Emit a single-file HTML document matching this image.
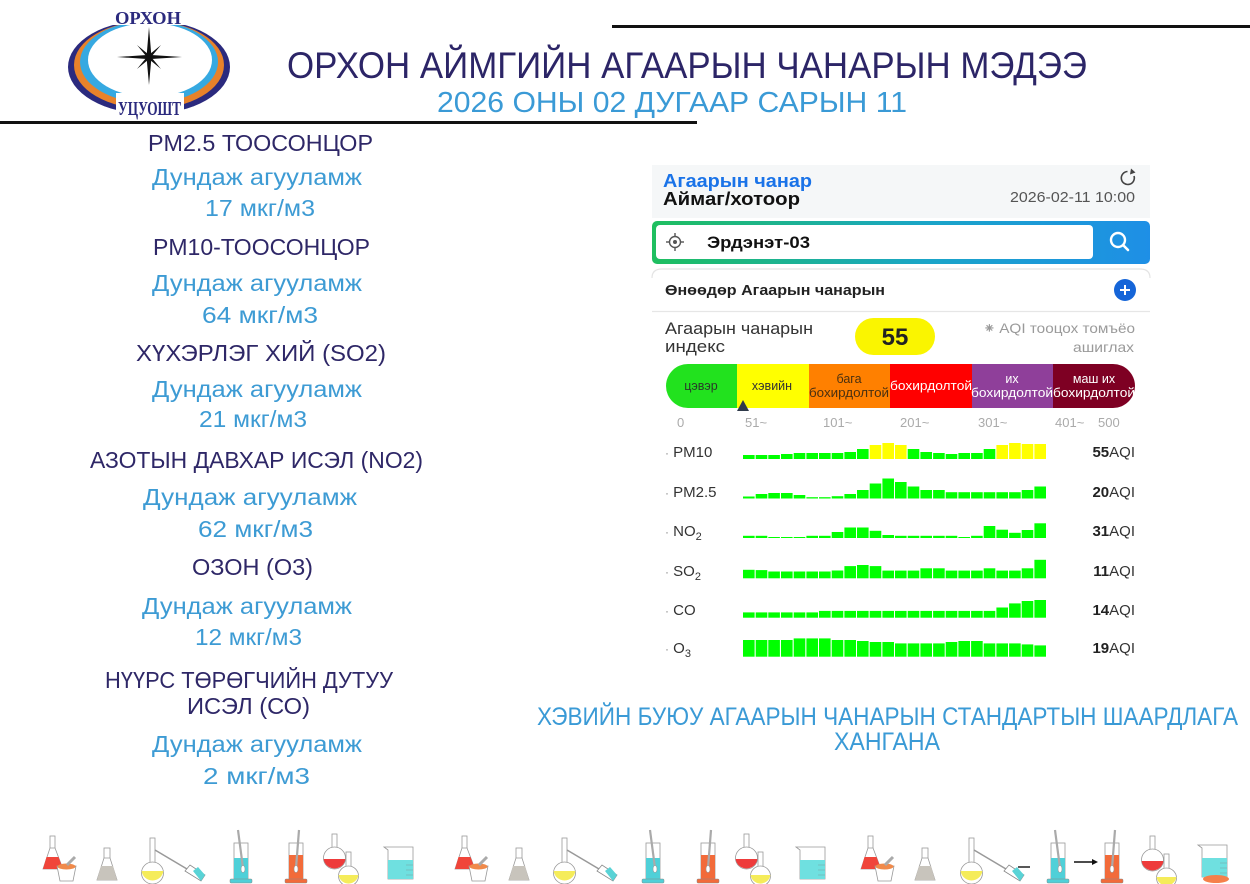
<!DOCTYPE html>
<html><head><meta charset="utf-8"><style>
html,body{margin:0;padding:0;background:#fff;}
svg{display:block;}
</style></head><body>
<svg width="1250" height="884" viewBox="0 0 1250 884" xmlns="http://www.w3.org/2000/svg" font-family="Liberation Sans, 'Noto Sans CJK SC', sans-serif">
<rect width="1250" height="884" fill="#fff"/>
<defs>
  <linearGradient id="sg" x1="0" x2="1" y1="0" y2="0">
    <stop offset="0" stop-color="#1fbf5f"/><stop offset="0.55" stop-color="#1aa5c8"/><stop offset="1" stop-color="#1e8fe6"/>
  </linearGradient>
  <g id="flaskMortar">
    <rect x="7" y="0" width="5" height="13" fill="#fff" stroke="#999" stroke-width="0.8"/>
    <polygon points="7,12 12,12 20,33 0,33" fill="#fff" stroke="#999" stroke-width="0.8"/>
    <polygon points="3.5,21 15.5,21 20,33 0,33" fill="#f0453a"/>
    <path d="M14,30 L33,30 L30,45 L17,45 Z" fill="#fff" stroke="#999" stroke-width="0.8"/>
    <ellipse cx="23.5" cy="30.5" rx="9" ry="3" fill="#f08a4b"/>
    <line x1="24" y1="29" x2="32" y2="21" stroke="#aaa" stroke-width="3"/>
  </g>
  <g id="greyFlask">
    <rect x="7" y="0" width="6" height="11" fill="#fff" stroke="#999" stroke-width="0.8"/>
    <polygon points="7,10 13,10 20,32 0,32" fill="#fff" stroke="#999" stroke-width="0.8"/>
    <polygon points="4,18 16,18 20,32 0,32" fill="#c8c4bc"/>
  </g>
  <g id="roundTube">
    <rect x="11" y="0" width="5" height="26" fill="#fff" stroke="#999" stroke-width="0.8"/>
    <circle cx="13.5" cy="35" r="11" fill="#fff" stroke="#999" stroke-width="0.8"/>
    <path d="M2.6,33 A11,11 0 0 0 24.4,33 Z" fill="#f5ec5a"/>
    <line x1="16" y1="12" x2="48" y2="31" stroke="#999" stroke-width="1.5"/>
    <polygon points="46,33 51,27 66,37 62,43" fill="#fff" stroke="#888" stroke-width="0.8"/>
    <polygon points="54,33 59,29 66,37 62,43" fill="#59d3d6"/>
  </g>
  <g id="cylC">
    <rect x="4" y="15" width="14" height="37" fill="#fff" stroke="#999" stroke-width="0.8"/>
    <rect x="4" y="30" width="14" height="22" fill="#4fd0d8"/>
    <rect x="0" y="51" width="22" height="4" rx="1" fill="#4fd0d8" stroke="#888" stroke-width="0.5"/>
    <line x1="8" y1="2" x2="13" y2="40" stroke="#aaa" stroke-width="2.2"/>
    <ellipse cx="13" cy="41" rx="2" ry="3.5" fill="#fff" stroke="#999" stroke-width="0.6"/>
  </g>
  <g id="cylO">
    <rect x="4" y="15" width="14" height="37" fill="#fff" stroke="#999" stroke-width="0.8"/>
    <rect x="4" y="27" width="14" height="25" fill="#f26b3a"/>
    <rect x="0" y="51" width="22" height="4" rx="1" fill="#f26b3a" stroke="#888" stroke-width="0.5"/>
    <line x1="14" y1="2" x2="11" y2="40" stroke="#aaa" stroke-width="2.2"/>
    <ellipse cx="11" cy="41" rx="2" ry="3.5" fill="#fff" stroke="#999" stroke-width="0.6"/>
  </g>
  <g id="twoFlasks">
    <rect x="10" y="0" width="5" height="15" fill="#fff" stroke="#999" stroke-width="0.8"/>
    <circle cx="12.5" cy="24" r="11" fill="#fff" stroke="#999" stroke-width="0.8"/>
    <path d="M1.6,25 A11,11 0 0 0 23.4,25 Z" fill="#ee3b3b"/>
    <rect x="24" y="18" width="5" height="15" fill="#fff" stroke="#999" stroke-width="0.8"/>
    <circle cx="26.5" cy="42" r="10" fill="#fff" stroke="#999" stroke-width="0.8"/>
    <path d="M16.6,41 A10,10 0 0 0 36.4,41 Z" fill="#f5ec5a"/>
  </g>
  <g id="beaker">
    <path d="M0,0 L4,3 L4,32 L29,32 L29,0 Z" fill="#fff" stroke="#999" stroke-width="0.8"/>
    <rect x="4" y="13" width="25" height="19" fill="#6fe0e0"/>
    <line x1="22" y1="18" x2="29" y2="18" stroke="#7aa" stroke-width="0.6"/>
    <line x1="22" y1="23" x2="29" y2="23" stroke="#7aa" stroke-width="0.6"/>
    <line x1="22" y1="28" x2="29" y2="28" stroke="#7aa" stroke-width="0.6"/>
  </g>
</defs>

<!-- header lines -->
<rect x="612" y="25" width="638" height="3" fill="#111"/>
<rect x="0" y="121" width="697" height="3" fill="#111"/>

<!-- logo -->
<ellipse cx="149" cy="67" rx="81" ry="47" fill="#2b2a7e"/>
<ellipse cx="149" cy="65" rx="75" ry="44" fill="#e8822a"/>
<ellipse cx="149" cy="62" rx="69" ry="41" fill="#36a9e1"/>
<ellipse cx="150" cy="60" rx="62" ry="37" fill="#fff"/>
<rect x="110" y="4" width="78" height="21" fill="#fff"/>
<text x="115" y="24" font-family="Liberation Serif, serif" font-weight="bold" font-size="18" fill="#2b2a7e" textLength="66" lengthAdjust="spacingAndGlyphs">ОРХОН</text>
<rect x="116" y="93" width="68" height="25" fill="#fff"/>
<text x="118" y="115" font-family="Liberation Serif, serif" font-weight="bold" font-size="20" fill="#2b2a7e" textLength="63" lengthAdjust="spacingAndGlyphs">УЦУОШТ</text>
<polygon points="149,27 151.3,55 182,57 151.3,59 149,85 146.7,59 117,57 146.7,55" fill="#111"/>
<polygon points="149,40 150.5,55.5 166,57 150.5,58.5 149,74 147.5,58.5 132,57 147.5,55.5" fill="#111" transform="rotate(45 149 57)"/>

<!-- titles -->
<text x="287" y="78" font-size="37" fill="#2c2567" textLength="800" lengthAdjust="spacingAndGlyphs">ОРХОН АЙМГИЙН АГААРЫН ЧАНАРЫН МЭДЭЭ</text>
<text x="437" y="112" font-size="29" fill="#3a9ad6" textLength="470" lengthAdjust="spacingAndGlyphs">2026 ОНЫ 02 ДУГААР САРЫН 11</text>

<!-- left column -->
<g font-size="23">
<text x="148" y="151" fill="#2e2767" textLength="225" lengthAdjust="spacingAndGlyphs">PM2.5 ТООСОНЦОР</text>
<text x="152" y="185" fill="#3d9bd4" textLength="210" lengthAdjust="spacingAndGlyphs">Дундаж агууламж</text>
<text x="205" y="216" fill="#3d9bd4" textLength="110" lengthAdjust="spacingAndGlyphs">17 мкг/м3</text>
<text x="153" y="255" fill="#2e2767" textLength="217" lengthAdjust="spacingAndGlyphs">PM10-ТООСОНЦОР</text>
<text x="152" y="291" fill="#3d9bd4" textLength="210" lengthAdjust="spacingAndGlyphs">Дундаж агууламж</text>
<text x="202" y="323" fill="#3d9bd4" textLength="116" lengthAdjust="spacingAndGlyphs">64 мкг/м3</text>
<text x="136" y="361" fill="#2e2767" textLength="250" lengthAdjust="spacingAndGlyphs">ХҮХЭРЛЭГ ХИЙ (SO2)</text>
<text x="152" y="397" fill="#3d9bd4" textLength="210" lengthAdjust="spacingAndGlyphs">Дундаж агууламж</text>
<text x="199" y="427" fill="#3d9bd4" textLength="108" lengthAdjust="spacingAndGlyphs">21 мкг/м3</text>
<text x="90" y="468" fill="#2e2767" textLength="333" lengthAdjust="spacingAndGlyphs">АЗОТЫН ДАВХАР ИСЭЛ (NO2)</text>
<text x="143" y="505" fill="#3d9bd4" textLength="214" lengthAdjust="spacingAndGlyphs">Дундаж агууламж</text>
<text x="198" y="537" fill="#3d9bd4" textLength="115" lengthAdjust="spacingAndGlyphs">62 мкг/м3</text>
<text x="192" y="575" fill="#2e2767" textLength="121" lengthAdjust="spacingAndGlyphs">ОЗОН (О3)</text>
<text x="142" y="614" fill="#3d9bd4" textLength="210" lengthAdjust="spacingAndGlyphs">Дундаж агууламж</text>
<text x="195" y="645" fill="#3d9bd4" textLength="107" lengthAdjust="spacingAndGlyphs">12 мкг/м3</text>
<text x="105" y="688" fill="#2e2767" textLength="288" lengthAdjust="spacingAndGlyphs">НҮҮРС ТӨРӨГЧИЙН ДУТУУ</text>
<text x="187" y="714" fill="#2e2767" textLength="123" lengthAdjust="spacingAndGlyphs">ИСЭЛ (СО)</text>
<text x="152" y="752" fill="#3d9bd4" textLength="210" lengthAdjust="spacingAndGlyphs">Дундаж агууламж</text>
<text x="203" y="784" fill="#3d9bd4" textLength="107" lengthAdjust="spacingAndGlyphs">2 мкг/м3</text>
</g>

<!-- app panel -->
<rect x="652" y="165" width="498" height="53" fill="#f5f7f8"/>
<text x="663" y="187" font-size="18" font-weight="bold" fill="#1a73e8" textLength="149" lengthAdjust="spacingAndGlyphs">Агаарын чанар</text>
<text x="663" y="205" font-size="18" font-weight="bold" fill="#111" textLength="137" lengthAdjust="spacingAndGlyphs">Аймаг/хотоор</text>
<path d="M1134,176 A6.5,6.5 0 1 1 1127.5,171.5" fill="none" stroke="#444" stroke-width="1.6"/>
<polygon points="1131,168.5 1135.5,172.5 1130,174.5" fill="#444"/>
<text x="1010" y="202" font-size="15" fill="#555" textLength="125" lengthAdjust="spacingAndGlyphs">2026-02-11 10:00</text>

<rect x="652" y="221" width="498" height="43" rx="5" fill="url(#sg)"/>
<rect x="656" y="225" width="437" height="34" rx="4" fill="#fff"/>
<circle cx="675" cy="242" r="5.5" fill="none" stroke="#555" stroke-width="1.4"/>
<circle cx="675" cy="242" r="2" fill="#555"/>
<line x1="675" y1="233" x2="675" y2="236" stroke="#555" stroke-width="1.4"/>
<line x1="675" y1="248" x2="675" y2="251" stroke="#555" stroke-width="1.4"/>
<line x1="666" y1="242" x2="669" y2="242" stroke="#555" stroke-width="1.4"/>
<line x1="681" y1="242" x2="684" y2="242" stroke="#555" stroke-width="1.4"/>
<text x="707" y="248" font-size="17" font-weight="bold" fill="#111" textLength="103" lengthAdjust="spacingAndGlyphs">Эрдэнэт-03</text>
<circle cx="1118" cy="240" r="7" fill="none" stroke="#fff" stroke-width="2.4"/>
<line x1="1123" y1="245" x2="1128" y2="250" stroke="#fff" stroke-width="2.6" stroke-linecap="round"/>

<path d="M652,278 Q652,269 662,269 L1140,269 Q1150,269 1150,278" fill="none" stroke="#e4e4e4" stroke-width="1.2"/>
<text x="665" y="295" font-size="15" font-weight="bold" fill="#222" textLength="220" lengthAdjust="spacingAndGlyphs">Өнөөдөр Агаарын чанарын</text>
<circle cx="1125" cy="290" r="11" fill="#1565d8"/>
<line x1="1120" y1="290" x2="1130" y2="290" stroke="#fff" stroke-width="2"/>
<line x1="1125" y1="285" x2="1125" y2="295" stroke="#fff" stroke-width="2"/>
<line x1="652" y1="311.5" x2="1150" y2="311.5" stroke="#e6e6e6" stroke-width="1.2"/>

<text x="665" y="334" font-size="17" fill="#333" textLength="148" lengthAdjust="spacingAndGlyphs">Агаарын чанарын</text>
<text x="665" y="352" font-size="17" fill="#333" textLength="60" lengthAdjust="spacingAndGlyphs">индекс</text>
<rect x="855" y="318" width="80" height="37" rx="18.5" fill="#faf500"/>
<text x="895" y="345" font-size="24" font-weight="bold" fill="#222" text-anchor="middle">55</text>
<text x="1135" y="333" font-size="14" fill="#9a9a9a" text-anchor="end" textLength="152" lengthAdjust="spacingAndGlyphs">⁕ AQI тооцох томъёо</text>
<text x="1134" y="352" font-size="14" fill="#9a9a9a" text-anchor="end" textLength="61" lengthAdjust="spacingAndGlyphs">ашиглах</text>

<!-- AQI scale bar -->
<path d="M688,364 L737,364 L737,408 L688,408 A22,22 0 0 1 688,364 Z" fill="#22e21e"/>
<rect x="737" y="364" width="72" height="44" fill="#ffff00"/>
<rect x="809" y="364" width="81" height="44" fill="#ff8000"/>
<rect x="890" y="364" width="82" height="44" fill="#ff0000"/>
<rect x="972" y="364" width="81" height="44" fill="#8f3f9a"/>
<path d="M1053,364 L1113,364 A22,22 0 0 1 1113,408 L1053,408 Z" fill="#7e0023"/>
<g font-size="12.5" text-anchor="middle">
<text x="701" y="390" fill="#2a3a2a">цэвэр</text>
<text x="772" y="390" fill="#333">хэвийн</text>
<text x="849" y="383" fill="#4a3010">бага</text>
<text x="849" y="397" fill="#4a3010" textLength="80" lengthAdjust="spacingAndGlyphs">бохирдолтой</text>
<text x="931" y="390" fill="#fff" textLength="82" lengthAdjust="spacingAndGlyphs">бохирдолтой</text>
<text x="1012" y="383" fill="#fff">их</text>
<text x="1012" y="397" fill="#fff" textLength="82" lengthAdjust="spacingAndGlyphs">бохирдолтой</text>
<text x="1094" y="383" fill="#fff">маш их</text>
<text x="1094" y="397" fill="#fff" textLength="82" lengthAdjust="spacingAndGlyphs">бохирдолтой</text>
</g>
<polygon points="743,400 737,411 749,411" fill="#2f3a4a"/>
<g font-size="13" fill="#aaa">
<text x="677" y="427">0</text>
<text x="745" y="427">51~</text>
<text x="823" y="427">101~</text>
<text x="900" y="427">201~</text>
<text x="978" y="427">301~</text>
<text x="1055" y="427">401~</text>
<text x="1098" y="427">500</text>
</g>

<!-- pollutant labels -->
<g font-size="15" fill="#333">
<text x="665" y="457"><tspan fill="#888" font-size="12">·</tspan> PM10</text>
<text x="665" y="497"><tspan fill="#888" font-size="12">·</tspan> PM2.5</text>
<text x="665" y="536"><tspan fill="#888" font-size="12">·</tspan> NO<tspan font-size="11" dy="4">2</tspan></text>
<text x="665" y="576"><tspan fill="#888" font-size="12">·</tspan> SO<tspan font-size="11" dy="4">2</tspan></text>
<text x="665" y="615"><tspan fill="#888" font-size="12">·</tspan> CO</text>
<text x="665" y="653"><tspan fill="#888" font-size="12">·</tspan> O<tspan font-size="11" dy="4">3</tspan></text>
</g>
<g font-size="15" fill="#333" text-anchor="end">
<text x="1135" y="457"><tspan font-weight="bold" fill="#222">55</tspan>AQI</text>
<text x="1135" y="497"><tspan font-weight="bold" fill="#222">20</tspan>AQI</text>
<text x="1135" y="536"><tspan font-weight="bold" fill="#222">31</tspan>AQI</text>
<text x="1135" y="576"><tspan font-weight="bold" fill="#222">11</tspan>AQI</text>
<text x="1135" y="615"><tspan font-weight="bold" fill="#222">14</tspan>AQI</text>
<text x="1135" y="653"><tspan font-weight="bold" fill="#222">19</tspan>AQI</text>
</g>

<!-- PM10 bars -->
<g fill="#00ff00">
<rect x="743.0" y="455" width="11.6" height="4"/>
<rect x="755.7" y="455" width="11.6" height="4"/>
<rect x="768.3" y="455" width="11.6" height="4"/>
<rect x="781.0" y="454" width="11.6" height="5"/>
<rect x="793.7" y="453" width="11.6" height="6"/>
<rect x="806.4" y="453" width="11.6" height="6"/>
<rect x="819.0" y="453" width="11.6" height="6"/>
<rect x="831.7" y="453" width="11.6" height="6"/>
<rect x="844.4" y="452" width="11.6" height="7"/>
<rect x="857.0" y="449" width="11.6" height="10"/>
<rect x="869.7" y="445" width="11.6" height="14" fill="#ffff00"/>
<rect x="882.4" y="443" width="11.6" height="16" fill="#ffff00"/>
<rect x="895.0" y="445" width="11.6" height="14" fill="#ffff00"/>
<rect x="907.7" y="449" width="11.6" height="10"/>
<rect x="920.4" y="452" width="11.6" height="7"/>
<rect x="933.1" y="453" width="11.6" height="6"/>
<rect x="945.7" y="454" width="11.6" height="5"/>
<rect x="958.4" y="453" width="11.6" height="6"/>
<rect x="971.1" y="453" width="11.6" height="6"/>
<rect x="983.7" y="449" width="11.6" height="10"/>
<rect x="996.4" y="445" width="11.6" height="14" fill="#ffff00"/>
<rect x="1009.1" y="443" width="11.6" height="16" fill="#ffff00"/>
<rect x="1021.7" y="444" width="11.6" height="15" fill="#ffff00"/>
<rect x="1034.4" y="444" width="11.6" height="15" fill="#ffff00"/>
</g>
<!-- PM2.5 bars -->
<g fill="#00ff00">
<rect x="743.0" y="496.5" width="11.6" height="2"/>
<rect x="755.7" y="494" width="11.6" height="4.5"/>
<rect x="768.3" y="493" width="11.6" height="5.5"/>
<rect x="781.0" y="493" width="11.6" height="5.5"/>
<rect x="793.7" y="495" width="11.6" height="3.5"/>
<rect x="806.4" y="497.2" width="11.6" height="1.3"/>
<rect x="819.0" y="497.2" width="11.6" height="1.3"/>
<rect x="831.7" y="496.2" width="11.6" height="2.3"/>
<rect x="844.4" y="494" width="11.6" height="4.5"/>
<rect x="857.0" y="490" width="11.6" height="8.5"/>
<rect x="869.7" y="483.5" width="11.6" height="15"/>
<rect x="882.4" y="478.5" width="11.6" height="20"/>
<rect x="895.0" y="482" width="11.6" height="16.5"/>
<rect x="907.7" y="486.5" width="11.6" height="12"/>
<rect x="920.4" y="490" width="11.6" height="8.5"/>
<rect x="933.1" y="490" width="11.6" height="8.5"/>
<rect x="945.7" y="492.2" width="11.6" height="6.3"/>
<rect x="958.4" y="492.2" width="11.6" height="6.3"/>
<rect x="971.1" y="492.2" width="11.6" height="6.3"/>
<rect x="983.7" y="492.2" width="11.6" height="6.3"/>
<rect x="996.4" y="492.2" width="11.6" height="6.3"/>
<rect x="1009.1" y="492.2" width="11.6" height="6.3"/>
<rect x="1021.7" y="490" width="11.6" height="8.5"/>
<rect x="1034.4" y="486.5" width="11.6" height="12"/>
</g>
<!-- NO2 bars -->
<g fill="#00ff00">
<rect x="743.0" y="535.8" width="11.6" height="2.2"/>
<rect x="755.7" y="535.8" width="11.6" height="2.2"/>
<rect x="768.3" y="537" width="11.6" height="1"/>
<rect x="781.0" y="537" width="11.6" height="1"/>
<rect x="793.7" y="537" width="11.6" height="1"/>
<rect x="806.4" y="535.8" width="11.6" height="2.2"/>
<rect x="819.0" y="535.8" width="11.6" height="2.2"/>
<rect x="831.7" y="532" width="11.6" height="6"/>
<rect x="844.4" y="527.5" width="11.6" height="10.5"/>
<rect x="857.0" y="527.5" width="11.6" height="10.5"/>
<rect x="869.7" y="530.8" width="11.6" height="7.2"/>
<rect x="882.4" y="535" width="11.6" height="3"/>
<rect x="895.0" y="535.8" width="11.6" height="2.2"/>
<rect x="907.7" y="535.8" width="11.6" height="2.2"/>
<rect x="920.4" y="535.8" width="11.6" height="2.2"/>
<rect x="933.1" y="535.8" width="11.6" height="2.2"/>
<rect x="945.7" y="535.8" width="11.6" height="2.2"/>
<rect x="958.4" y="537" width="11.6" height="1"/>
<rect x="971.1" y="535.8" width="11.6" height="2.2"/>
<rect x="983.7" y="526" width="11.6" height="12"/>
<rect x="996.4" y="529.7" width="11.6" height="8.3"/>
<rect x="1009.1" y="532.8" width="11.6" height="5.2"/>
<rect x="1021.7" y="530" width="11.6" height="8"/>
<rect x="1034.4" y="523.3" width="11.6" height="14.7"/>
</g>
<!-- SO2 bars -->
<g fill="#00ff00">
<rect x="743.0" y="569.8" width="11.6" height="8.5"/>
<rect x="755.7" y="570.1" width="11.6" height="8.2"/>
<rect x="768.3" y="571.5" width="11.6" height="6.8"/>
<rect x="781.0" y="571.5" width="11.6" height="6.8"/>
<rect x="793.7" y="571.5" width="11.6" height="6.8"/>
<rect x="806.4" y="571.5" width="11.6" height="6.8"/>
<rect x="819.0" y="571.5" width="11.6" height="6.8"/>
<rect x="831.7" y="570.5" width="11.6" height="7.8"/>
<rect x="844.4" y="566.1" width="11.6" height="12.2"/>
<rect x="857.0" y="565" width="11.6" height="13.3"/>
<rect x="869.7" y="566.1" width="11.6" height="12.2"/>
<rect x="882.4" y="570.6" width="11.6" height="7.7"/>
<rect x="895.0" y="570.6" width="11.6" height="7.7"/>
<rect x="907.7" y="570.6" width="11.6" height="7.7"/>
<rect x="920.4" y="568.3" width="11.6" height="10"/>
<rect x="933.1" y="568.3" width="11.6" height="10"/>
<rect x="945.7" y="570.6" width="11.6" height="7.7"/>
<rect x="958.4" y="570.6" width="11.6" height="7.7"/>
<rect x="971.1" y="570.6" width="11.6" height="7.7"/>
<rect x="983.7" y="568.3" width="11.6" height="10"/>
<rect x="996.4" y="570.6" width="11.6" height="7.7"/>
<rect x="1009.1" y="570.6" width="11.6" height="7.7"/>
<rect x="1021.7" y="568.3" width="11.6" height="10"/>
<rect x="1034.4" y="559.8" width="11.6" height="18.5"/>
</g>
<!-- CO bars -->
<g fill="#00ff00">
<rect x="743.0" y="612.4" width="11.6" height="5.3"/>
<rect x="755.7" y="612.4" width="11.6" height="5.3"/>
<rect x="768.3" y="612.4" width="11.6" height="5.3"/>
<rect x="781.0" y="612.4" width="11.6" height="5.3"/>
<rect x="793.7" y="612.4" width="11.6" height="5.3"/>
<rect x="806.4" y="612.4" width="11.6" height="5.3"/>
<rect x="819.0" y="610.9" width="11.6" height="6.8"/>
<rect x="831.7" y="610.9" width="11.6" height="6.8"/>
<rect x="844.4" y="610.9" width="11.6" height="6.8"/>
<rect x="857.0" y="610.9" width="11.6" height="6.8"/>
<rect x="869.7" y="610.9" width="11.6" height="6.8"/>
<rect x="882.4" y="610.9" width="11.6" height="6.8"/>
<rect x="895.0" y="610.9" width="11.6" height="6.8"/>
<rect x="907.7" y="610.9" width="11.6" height="6.8"/>
<rect x="920.4" y="610.9" width="11.6" height="6.8"/>
<rect x="933.1" y="610.9" width="11.6" height="6.8"/>
<rect x="945.7" y="610.9" width="11.6" height="6.8"/>
<rect x="958.4" y="610.9" width="11.6" height="6.8"/>
<rect x="971.1" y="610.9" width="11.6" height="6.8"/>
<rect x="983.7" y="610.9" width="11.6" height="6.8"/>
<rect x="996.4" y="607.5" width="11.6" height="10.2"/>
<rect x="1009.1" y="603.4" width="11.6" height="14.3"/>
<rect x="1021.7" y="601" width="11.6" height="16.7"/>
<rect x="1034.4" y="600" width="11.6" height="17.7"/>
</g>
<!-- O3 bars -->
<g fill="#00ff00">
<rect x="743.0" y="640" width="11.6" height="16.7"/>
<rect x="755.7" y="640" width="11.6" height="16.7"/>
<rect x="768.3" y="640" width="11.6" height="16.7"/>
<rect x="781.0" y="640" width="11.6" height="16.7"/>
<rect x="793.7" y="638.4" width="11.6" height="18.3"/>
<rect x="806.4" y="638.4" width="11.6" height="18.3"/>
<rect x="819.0" y="638.4" width="11.6" height="18.3"/>
<rect x="831.7" y="640" width="11.6" height="16.7"/>
<rect x="844.4" y="640" width="11.6" height="16.7"/>
<rect x="857.0" y="641" width="11.6" height="15.7"/>
<rect x="869.7" y="642" width="11.6" height="14.7"/>
<rect x="882.4" y="642" width="11.6" height="14.7"/>
<rect x="895.0" y="643.4" width="11.6" height="13.3"/>
<rect x="907.7" y="643.4" width="11.6" height="13.3"/>
<rect x="920.4" y="643.4" width="11.6" height="13.3"/>
<rect x="933.1" y="643.4" width="11.6" height="13.3"/>
<rect x="945.7" y="642" width="11.6" height="14.7"/>
<rect x="958.4" y="641" width="11.6" height="15.7"/>
<rect x="971.1" y="641" width="11.6" height="15.7"/>
<rect x="983.7" y="643.4" width="11.6" height="13.3"/>
<rect x="996.4" y="643.4" width="11.6" height="13.3"/>
<rect x="1009.1" y="643.4" width="11.6" height="13.3"/>
<rect x="1021.7" y="644.4" width="11.6" height="12.3"/>
<rect x="1034.4" y="645.4" width="11.6" height="11.3"/>
</g>

<!-- conclusion -->
<text x="537" y="725" font-size="25" fill="#3a9ad6" textLength="701" lengthAdjust="spacingAndGlyphs">ХЭВИЙН БУЮУ АГААРЫН ЧАНАРЫН СТАНДАРТЫН ШААРДЛАГА</text>
<text x="834" y="750" font-size="25" fill="#3a9ad6" textLength="106" lengthAdjust="spacingAndGlyphs">ХАНГАНА</text>

<!-- bottom lab icons -->
<use href="#flaskMortar" x="43" y="836"/>
<use href="#greyFlask" x="97" y="848"/>
<use href="#roundTube" x="139" y="838"/>
<use href="#cylC" x="230" y="828"/>
<use href="#cylO" x="285" y="828"/>
<use href="#twoFlasks" x="322" y="834"/>
<use href="#beaker" x="384" y="847"/>

<use href="#flaskMortar" x="455" y="836"/>
<use href="#greyFlask" x="509" y="848"/>
<use href="#roundTube" x="551" y="838"/>
<use href="#cylC" x="642" y="828"/>
<use href="#cylO" x="697" y="828"/>
<use href="#twoFlasks" x="734" y="834"/>
<use href="#beaker" x="796" y="847"/>

<use href="#flaskMortar" x="861" y="836"/>
<use href="#greyFlask" x="915" y="848"/>
<use href="#roundTube" x="958" y="838"/>
<line x1="1018" y1="867" x2="1030" y2="867" stroke="#111" stroke-width="1.4"/>
<use href="#cylC" x="1047" y="828"/>
<line x1="1074" y1="862" x2="1094" y2="862" stroke="#111" stroke-width="1.5"/>
<polygon points="1098,862 1092,859 1092,865" fill="#111"/>
<use href="#cylO" x="1101" y="828"/>
<use href="#twoFlasks" x="1140" y="836"/>
<use href="#beaker" x="1198" y="845"/>
<ellipse cx="1216" cy="879" rx="13" ry="4" fill="#f5804a"/>
</svg>
</body></html>
